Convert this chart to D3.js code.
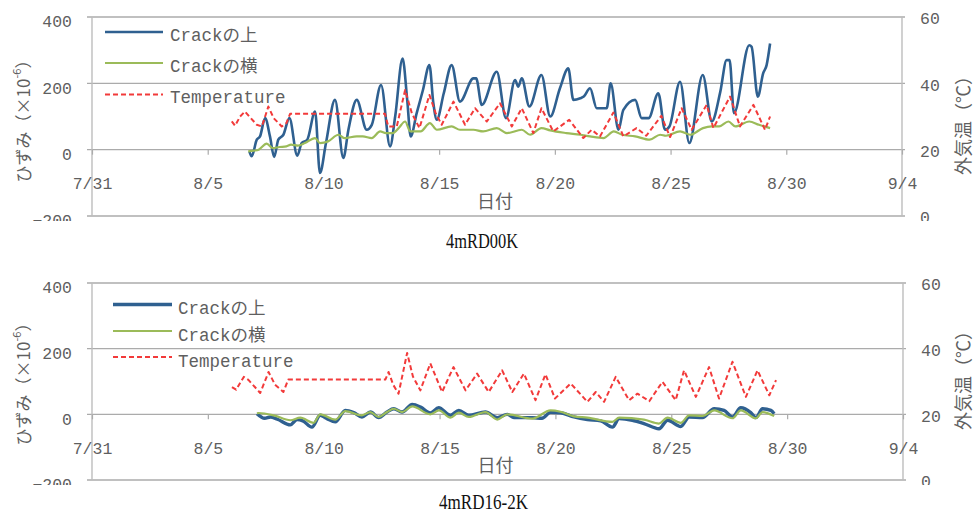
<!DOCTYPE html>
<html>
<head>
<meta charset="utf-8">
<script src="https://cdn.jsdelivr.net/npm/d3@7"></script>
<style>
  body { margin: 0; background: #fff; }
  svg { display: block; }
</style>
</head>
<body>
<svg id="chart" width="977" height="516"></svg>
<script>
// ---- data ---------------------------------------------------------------
// Times are given as day-of-August (fractional, 0 = 7/31), strain in ×10⁻⁶, temperature in °C.
const seriesNames = ["Crackの上", "Crackの横", "Temperature"];
const strainTicks = [-200, 0, 200, 400];
const tempTicks = [0, 20, 40, 60];
const dateTickDays = [0, 5, 10, 15, 20, 25, 30, 35];
const chartTitles = ["4mRD00K", "4mRD16-2K"];

// 4mRD00K
const rd00Upper = [
  [6.80,-5],[6.90,-20],[7.12,30],[7.26,40],[7.48,95],[7.69,40],[7.87,-22],[8.05,30],[8.27,45],[8.53,95],
  [8.87,-18],[9.06,20],[9.30,30],[9.64,115],[9.85,-70],[10.11,20],[10.50,150],[10.86,-25],[11.08,60],[11.44,150],
  [11.87,60],[12.09,75],[12.49,195],[12.88,10],[13.10,100],[13.42,275],[13.62,150],[13.77,40],[14.03,110],[14.30,180],
  [14.58,255],[14.75,140],[14.90,90],[15.20,170],[15.54,255],[15.90,145],[16.48,215],[16.60,215],[16.84,135],[17.49,235],
  [17.89,95],[18.28,210],[18.42,190],[18.57,215],[18.90,130],[19.42,225],[19.80,100],[20.22,185],[20.58,245],[20.80,150],
  [21.10,155],[21.25,160],[21.52,185],[21.81,125],[22.24,125],[22.41,200],[22.75,60],[22.96,120],[23.47,150],[23.75,95],
  [24.05,95],[24.47,170],[24.76,60],[24.95,70],[25.41,205],[25.81,20],[26.39,225],[26.78,85],[27.15,175],[27.42,270],
  [27.55,270],[27.74,110],[28.40,315],[28.50,310],[28.77,160],[29.00,230],[29.15,255],[29.30,320]
];
const rd00Side = [
  [6.75,-5],[7.00,-3],[7.20,0],[7.55,18],[7.80,5],[8.10,8],[8.40,10],[8.60,15],[8.90,12],[9.20,20],
  [9.64,35],[9.85,20],[10.20,25],[10.65,45],[10.90,35],[11.44,40],[11.70,40],[12.09,35],[12.45,55],[12.70,50],
  [13.00,50],[13.25,65],[13.53,85],[13.75,55],[14.20,55],[14.60,80],[14.90,60],[15.54,70],[15.90,60],[16.48,60],
  [16.90,55],[17.49,65],[17.93,50],[18.57,60],[18.93,45],[19.42,65],[19.80,58],[20.50,50],[21.10,45],[21.52,40],
  [22.10,35],[22.55,55],[22.90,45],[23.47,40],[24.10,30],[24.55,45],[24.80,42],[25.41,55],[25.85,45],[26.40,65],
  [26.78,70],[27.10,70],[27.50,85],[27.80,70],[28.40,85],[28.82,75],[29.30,65]
];
const rd00Temp = [
  [6.04,28.5],[6.18,27.2],[6.40,30],[6.61,31.5],[6.80,30],[7.12,27.5],[7.34,27],[7.62,33],[7.85,29.5],[8.20,27],
  [8.40,28],[8.56,30.8],[12.66,30.8],[12.80,27],[13.17,27],[13.53,38],[13.82,31],[14.15,26.5],[14.58,36.5],[14.85,31],
  [15.11,27.5],[15.62,34.5],[16.12,27.5],[16.55,32.5],[17.06,28.5],[17.63,34],[18.14,27],[18.57,32.5],[19.07,25],[19.42,32.5],
  [19.93,25.5],[20.62,29],[21.23,23.5],[21.59,26],[21.95,24],[22.53,31.2],[22.96,24],[23.53,26.5],[23.95,24.2],[24.60,30.2],
  [24.98,23.8],[25.48,32.5],[25.91,26],[26.56,33.5],[26.85,26.5],[27.57,36],[28.00,27],[28.58,33.5],[29.08,26],[29.30,30]
];

// 4mRD16-2K
const rd16Upper = [
  [7.12,2],[7.45,-12],[7.70,-8],[8.00,-15],[8.56,-32],[8.85,-16],[9.10,-20],[9.49,-39],[9.85,-3],[10.14,-13],
  [10.50,-23],[10.93,12],[11.30,5],[11.65,-8],[12.02,7],[12.37,-10],[12.73,7],[13.02,17],[13.38,7],[13.82,30],
  [14.18,22],[14.60,4],[14.96,20],[15.47,-3],[15.83,12],[16.26,-3],[16.98,7],[17.49,-10],[17.92,0],[18.21,-10],
  [18.99,-10],[19.42,-12],[19.79,6],[20.22,5],[20.80,-8],[21.38,-16],[21.95,-20],[22.46,-39],[22.75,-13],[23.32,-18],
  [23.82,-28],[24.47,-44],[24.84,-18],[25.41,-37],[25.77,-8],[26.35,-10],[26.85,17],[27.28,12],[27.64,-8],[28.00,20],
  [28.43,5],[28.65,-10],[28.94,17],[29.30,12],[29.44,2]
];
const rd16Side = [
  [7.12,3],[7.19,4],[7.84,-3],[8.56,-18],[8.99,-10],[9.56,-26],[9.85,0],[10.50,-16],[10.93,10],[11.65,-3],
  [12.01,7],[12.37,-8],[12.73,7],[13.02,17],[13.38,7],[13.82,24],[14.60,0],[14.97,12],[15.47,-10],[15.83,5],
  [16.26,-8],[16.98,7],[17.49,-16],[17.92,0],[19.00,-13],[19.79,12],[20.22,8],[20.80,-6],[21.38,-10],[22.46,-23],
  [22.75,-10],[23.82,-16],[24.47,-28],[24.84,-10],[25.41,-26],[25.77,-3],[26.35,-5],[26.85,12],[27.64,-12],[28.00,12],
  [28.65,-12],[28.94,7],[29.44,-5]
];
const rd16Temp = [
  [6.04,28.3],[6.22,27.5],[6.55,31.4],[6.75,30.5],[7.26,26.5],[7.62,32.9],[7.90,29],[8.26,26.8],[8.47,30.6],[12.66,30.6],
  [12.80,32.9],[13.00,29],[13.23,26.3],[13.60,38.7],[13.85,31.5],[14.17,27.3],[14.60,35.5],[15.11,26.8],[15.60,34.4],[16.12,27.3],
  [16.62,32.4],[17.12,26.8],[17.70,33.4],[18.14,26.8],[18.64,32.4],[19.14,24.3],[19.57,32.2],[19.98,24.8],[20.66,29.4],[21.38,23.8],
  [21.74,26.8],[22.10,23.8],[22.60,31.4],[23.18,24.3],[23.54,26.3],[24.05,24],[24.62,29.9],[25.19,24.3],[25.55,33.4],[26.06,25.3],
  [26.63,34.4],[27.06,24.8],[27.64,36],[28.22,25.3],[28.72,33.4],[29.23,25.8],[29.52,30.4]
];

// ---- drawing ------------------------------------------------------------
const FONT = "'Liberation Mono', 'Noto Sans CJK JP', monospace";
const JP = "'Noto Sans CJK JP', sans-serif";
const TEXT = "#5f5f5f";
const GRID = "#ababab";
const COLORS = ["#2f6090", "#9bbb59", "#f23a3a"];

const dayToDate = d => new Date(Date.UTC(2013, 7, 0) + d * 864e5);
const fmtDate = d3.utcFormat("%-m/%-d");

const svg = d3.select("#chart");

const panels = [
  { title: chartTitles[0], upper: rd00Upper, side: rd00Side, temp: rd00Temp,
    left: 92, right: 902, top: 17, bottom: 216, clipBottom: 221, titleX: 482, titleY: 248, titleW: 72,
    legendX: 105, legendLen: 58, legendTextX: 170, legendY: [32, 63, 94.5], legendTextDy: 3.5,
    yTitleY: 117, rTitleY: 121, widths: [2.6, 2.2, 2] },
  { title: chartTitles[1], upper: rd16Upper, side: rd16Side, temp: rd16Temp,
    left: 92, right: 903, top: 283, bottom: 480, clipBottom: 485, titleX: 483.5, titleY: 509, titleW: 89,
    legendX: 113, legendLen: 59, legendTextX: 178, legendY: [304.5, 331, 357], legendTextDy: 4.5,
    yTitleY: 380, rTitleY: 376, widths: [3.4, 2.2, 2] }
];

panels.forEach((p, i) => {
  const x = d3.scaleUtc().domain([dayToDate(0), dayToDate(35)]).range([p.left, p.right]);
  const y = d3.scaleLinear().domain([-200, 400]).range([p.bottom, p.top]);
  const yT = d3.scaleLinear().domain([0, 60]).range([p.bottom, p.top]);

  const clipId = "clip" + i;
  svg.append("clipPath").attr("id", clipId)
    .append("rect").attr("x", 0).attr("y", p.top - 15).attr("width", 977).attr("height", p.clipBottom - p.top + 15);

  const g = svg.append("g").attr("clip-path", `url(#${clipId})`)
    .style("font-family", FONT);

  // horizontal gridlines (including the outer 400 / -200 lines)
  g.append("g").selectAll("line").data(strainTicks).join("line")
    .attr("x1", p.left - 5).attr("x2", p.right + 3)
    .attr("y1", d => y(d)).attr("y2", d => y(d))
    .attr("stroke", GRID).attr("stroke-width", 1.4);

  // vertical axis lines
  [p.left, p.right].forEach(xx => {
    g.append("line").attr("x1", xx).attr("x2", xx).attr("y1", p.top).attr("y2", p.bottom)
      .attr("stroke", "#bdbdbd").attr("stroke-width", 1.4);
  });

  // left axis labels
  const yAxis = d3.axisLeft(y).tickValues(strainTicks).tickSize(0).tickPadding(20);
  const ya = g.append("g").attr("transform", `translate(${p.left},0)`).call(yAxis);
  ya.select(".domain").remove();
  ya.selectAll("text").attr("fill", TEXT).attr("dy", "0.6em")
    .style("font-size", "16.5px").style("font-family", FONT);

  // right axis labels
  const yAxisR = d3.axisRight(yT).tickValues(tempTicks).tickSize(0).tickPadding(18);
  const yr = g.append("g").attr("transform", `translate(${p.right},0)`).call(yAxisR);
  yr.select(".domain").remove();
  yr.selectAll("text").attr("fill", TEXT).attr("dy", "0.42em")
    .style("font-size", "16.5px").style("font-family", FONT);

  // date axis sitting on the zero line
  const xAxis = d3.axisBottom(x).tickValues(dateTickDays.map(dayToDate))
    .tickFormat(fmtDate).tickSizeInner(5).tickSizeOuter(0).tickPadding(23);
  const xa = g.append("g").attr("transform", `translate(0,${y(0)})`).call(xAxis);
  xa.select(".domain").remove();
  xa.selectAll(".tick line").attr("stroke", GRID).attr("stroke-width", 1.2);
  xa.selectAll("text").attr("fill", TEXT)
    .style("font-size", "16.5px").style("font-family", FONT);

  // axis titles
  g.append("text").attr("x", (p.left + p.right) / 2 - 2).attr("y", y(0) + 50)
    .attr("text-anchor", "middle").attr("dominant-baseline", "central")
    .attr("fill", TEXT).style("font-size", "18px")
    .style("font-family", JP).text("日付");

  const lt = g.append("text")
    .attr("transform", `translate(22,${p.yTitleY}) rotate(-90)`)
    .attr("text-anchor", "middle").attr("dominant-baseline", "central")
    .attr("fill", TEXT).style("font-size", "17px")
    .style("font-family", JP);
  lt.append("tspan").text("ひずみ（×10");
  lt.append("tspan").attr("dy", -6).style("font-size", "11px").text("-6");
  lt.append("tspan").attr("dy", 6).text("）");

  g.append("text")
    .attr("transform", `translate(962,${p.rTitleY}) rotate(-90)`)
    .attr("text-anchor", "middle").attr("dominant-baseline", "central")
    .attr("fill", TEXT).style("font-size", "18px")
    .style("font-family", JP)
    .text("外気温（℃）");

  // series
  const strainLine = d3.line().curve(d3.curveMonotoneX)
    .x(d => x(dayToDate(d[0]))).y(d => y(d[1]));
  const tempLine = d3.line()
    .x(d => x(dayToDate(d[0]))).y(d => yT(d[1]));

  g.append("path").datum(p.upper).attr("d", strainLine)
    .attr("fill", "none").attr("stroke", COLORS[0]).attr("stroke-width", p.widths[0])
    .attr("stroke-linejoin", "round");
  g.append("path").datum(p.side).attr("d", strainLine)
    .attr("fill", "none").attr("stroke", COLORS[1]).attr("stroke-width", p.widths[1])
    .attr("stroke-linejoin", "round");
  g.append("path").datum(p.temp).attr("d", tempLine)
    .attr("fill", "none").attr("stroke", COLORS[2]).attr("stroke-width", p.widths[2])
    .attr("stroke-dasharray", "5,3").attr("stroke-linejoin", "round");

  // legend
  const lg = g.append("g");
  seriesNames.forEach((name, k) => {
    lg.append("line")
      .attr("x1", p.legendX).attr("x2", p.legendX + p.legendLen)
      .attr("y1", p.legendY[k]).attr("y2", p.legendY[k])
      .attr("stroke", COLORS[k]).attr("stroke-width", k === 0 ? p.widths[0] : 2.2)
      .attr("stroke-dasharray", k === 2 ? "5,3" : null);
    lg.append("text").attr("x", p.legendTextX).attr("y", p.legendY[k] + p.legendTextDy)
      .attr("dominant-baseline", "central").attr("fill", TEXT)
      .style("font-size", "17.5px").text(name);
  });

  // chart caption (condensed serif)
  svg.append("text").attr("x", p.titleX).attr("y", p.titleY)
    .attr("text-anchor", "middle")
    .attr("textLength", p.titleW).attr("lengthAdjust", "spacingAndGlyphs")
    .attr("fill", "#111").style("font-family", "'Liberation Serif', serif").style("font-size", "20px")
    .text(p.title);
});
</script>
</body>
</html>
